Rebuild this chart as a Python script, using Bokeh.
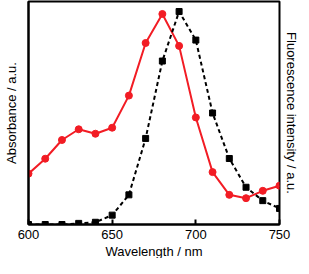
from bokeh.plotting import figure
from bokeh.models import LinearAxis, Range1d, FixedTicker, Title
from bokeh.embed import file_html
from bokeh.resources import INLINE

wavelength = [600, 610, 620, 630, 640, 650, 660, 670, 680, 690, 700, 710, 720, 730, 740, 750]
absorbance = [0.228, 0.295, 0.379, 0.427, 0.407, 0.434, 0.578, 0.814, 0.944, 0.801,
              0.480, 0.235, 0.133, 0.118, 0.151, 0.174]
fluorescence = [0.0, 0.0, 0.0, 0.005, 0.010, 0.042, 0.133, 0.386, 0.733, 0.955,
                0.827, 0.500, 0.296, 0.167, 0.107, 0.072]
x_ticks = [600, 650, 700, 750]
x_title = "Wavelength / nm"
left_title = "Absorbance / a.u."
right_title = "Fluorescence intensity / a.u."

FONT = "Liberation Sans"
RED = "#f21c24"

p = figure(width=301, height=258, output_backend="svg", toolbar_location=None,
           x_range=Range1d(600, 750), y_range=Range1d(0, 1),
           x_axis_location=None, y_axis_location=None,
           min_border_left=27, min_border_right=0, min_border_top=1, min_border_bottom=0)
p.xgrid.visible = False
p.ygrid.visible = False
p.outline_line_color = "black"
p.outline_line_width = 2
p.outline_line_alpha = 1

def style_axis(ax):
    ax.axis_line_width = 2
    ax.axis_line_color = "black"
    ax.major_tick_line_color = "black"
    ax.major_tick_line_width = 2
    ax.minor_tick_line_color = None
    ax.axis_label_text_font = FONT
    ax.axis_label_text_font_size = "13px"
    ax.axis_label_text_font_style = "normal"
    ax.axis_label_text_color = "black"
    ax.major_label_text_font = FONT
    ax.major_label_text_font_size = "13px"
    ax.major_label_text_color = "black"

xax = LinearAxis(ticker=FixedTicker(ticks=x_ticks),
                 major_tick_in=5, major_tick_out=0, major_label_standoff=5)
style_axis(xax)
p.add_layout(xax, "below")

lax = LinearAxis(ticker=FixedTicker(ticks=[]), axis_label=left_title,
                 major_tick_in=0, major_tick_out=0, axis_label_standoff=10,
                 major_label_standoff=0)
style_axis(lax)
lax.major_label_text_font_size = "0px"
p.add_layout(lax, "left")

p.add_layout(Title(text=x_title, align="center", text_font=FONT, text_font_size="13px",
                   text_font_style="normal", text_color="black", standoff=0, offset=0), "below")
p.add_layout(Title(text=right_title, align="center", vertical_align="top", text_font=FONT,
                   text_font_size="13px", text_font_style="normal", text_color="black",
                   standoff=5, offset=0), "right")

p.line(wavelength, absorbance, line_color=RED, line_width=2)
p.scatter(wavelength, absorbance, marker="circle", size=7, fill_color=RED, line_color=RED)
p.line(wavelength, fluorescence, line_color="black", line_width=2, line_dash="4 3")
p.scatter(wavelength, fluorescence, marker="square", size=6, fill_color="black", line_color="black")

open("out.html", "w").write(file_html(p, INLINE))
